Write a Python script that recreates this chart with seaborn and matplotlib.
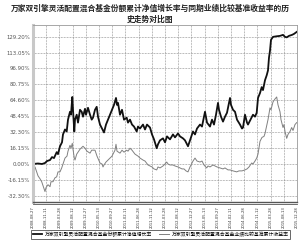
import numpy as np
import pandas as pd
import seaborn as sns
import matplotlib
matplotlib.use("Agg")
import matplotlib.pyplot as plt

title = "万家双引擎灵活配置混合基金份额累计净值增长率与同期业绩比较基准收益率的历\n史走势对比图"
fund_label = "万家双引擎灵活配置混合基金份额累计净值增长率"
bench_label = "万家双引擎灵活配置混合基金业绩比较基准累计收益率"

date_labels = ["2008-08-27", "2008-11-11", "2009-03-28", "2009-08-12", "2009-12-27",
               "2010-05-13", "2010-09-27", "2011-02-11", "2011-06-28", "2011-11-12",
               "2012-03-28", "2012-08-12", "2012-12-27", "2013-05-13", "2013-09-27",
               "2014-02-11", "2014-06-28", "2014-11-12", "2015-03-28", "2015-08-13",
               "2015-12-28"]
y_ticks = [-32.30, -16.15, 0.00, 16.15, 32.30, 48.45, 64.60, 80.75, 96.90, 113.05, 129.20]

# (time index 0..264 over the period, value in %)
fund_points = [(0,0),(5,0.5),(9,0),(12,1),(14,3),(17,4),(19,7),(21,6),(23.7,12),(25,10),(27,18),
    (29,22),(30,30),(32,35),(33.7,33),(35,45),(37,53),(38,50),(39.3,68),(40,55),(41.3,33),(42,45),
    (43.7,50),(45,42),(47,55),(48.7,53),(50,48),(52,56),(53,50),(55,57),(57,50),(58.7,45),(60,47),
    (62,55),(63.7,58),(65,48),(67,40),(69,36),(71,32),(73,40),(75,45),(77,50),(79,55),(81,60),
    (83,67),(84,60),(85,62),(87,50),(89,55),(91,45),(93.7,47),(95,42),(97,45),(99,40),(101,38),
    (103.7,33),(105,38),(107,36),(110,40),(112,35),(114,40),(117,37),(119,30),(121,25),(123.7,16),
    (125,20),(127,24),(130,26),(132,22),(134,28),(137,25),(140,30),(142,27),(145,31),(147,28),
    (150,26),(152,24),(155,18),(157,24),(160,33),(162,30),(164,36),(167,40),(169,38),(171,48),
    (172,53),(174,42),(177,38),(179,45),(181,40),(183,50),(185,62),(186,55),(188,48),(190,43),
    (192,48),(194,52),(197,67),(198,60),(200,55),(202,53),(204,45),(207,40),(209,36),(210,37),
    (212,50),(214,42),(215,40),(217,44),(220,50),(222,48),(223.7,52),(225,67),(227,72),(228.7,78),
    (230,75),(232,85),(233.7,90),(235,95),(236,108),(237,115),(238,126),(240,129),(243,129.5),
    (247,130),(250,131),(252,129),(253.7,128.5),(256,130),(259,131),(261,132),(263.7,134)]

bench_points = [(0,0),(1,-5),(2,-3),(3.7,-8),(5,-12),(7,-15),(8.7,-18),(10,-22),(12,-28),(13,-24),
    (15,-21),(17,-23),(18,-18),(20,-18),(22,-14),(23.7,-13),(25,-8),(27,-8),(28.7,-4),(30,0),(32,6),
    (34,8),(35,13),(37,19),(38,16),(39.3,21),(40,15),(41.3,6),(42,4),(43.7,10),(45,12),(47,15),
    (50,18),(52,16),(54,13),(57,11),(58.7,14),(60,14),(62,14),(64,8),(67,1),(69,0),(70,-3),(71,-1),
    (73,2),(75,4),(77,6),(79,8),(82,14),(83,20),(84,13),(87,11),(89,14),(91,12),(93.7,14),(95,13),
    (97,16),(99,14),(102,10),(105,8),(107,6),(110,4),(112,3),(115,-1),(117,-2),(119,-3),(121,-5),
    (123.7,-6),(125,-3),(127,-4),(130,-2),(132,0),(133.7,2),(135,0),(137,-1),(140,-1),(142,-2),
    (145,-3),(147,-4),(149,-5),(151,-5),(153,-7),(155,-8),(157,-3),(160,3),(162,6),(164,3),(167,2),
    (169,3),(171,-1),(173.7,-4),(175,-2),(177,-3),(180,-1),(182,-2),(184,-3),(187,-4),(190,-5),
    (192,-4),(195,-6),(197,-6),(200,-7),(203.7,-8),(206,-7),(209,-7),(212,-6),(214,-5),(216,-3),
    (218.7,1),(220,0),(222,3),(223.7,6),(225,10),(227,23),(229,27),(231,28),(232,31),(234,40),
    (235,45),(237,57),(238,55),(240,63),(242,66),(243.7,68),(245,60),(247,53),(248,45),(250,37),
    (251,40),(252,33),(253.7,26),(255,30),(257,33),(258.7,37),(260,34),(262,40),(263.7,42)]

df_f = pd.DataFrame(fund_points, columns=["t", "v"])
df_b = pd.DataFrame(bench_points, columns=["t", "v"])

plt.rcParams["font.family"] = ["Noto Sans CJK SC", "DejaVu Sans"]
fig = plt.figure(figsize=(3.0, 2.43), dpi=100)
ax = fig.add_axes([0.11, 0.169, 0.88, 0.728])

sns.lineplot(data=df_b, x="t", y="v", ax=ax, color="#808080", linewidth=0.7,
             sort=False, label=bench_label)
sns.lineplot(data=df_f, x="t", y="v", ax=ax, color="#111111", linewidth=1.3,
             sort=False, label=fund_label)

ax.set_xlim(0, 264)
ax.set_ylim(-38.5, 141)
ax.set_xticks(np.linspace(0, 264, len(date_labels)))
ax.set_xticklabels(date_labels, rotation=90, fontsize=2.7, color="#333333",
                   family=["DejaVu Sans"])
ax.set_yticks(y_ticks)
ax.set_yticklabels([f"{v:.2f}%" for v in y_ticks], fontsize=3.9, color="#555555",
                   family=["DejaVu Sans"])
ax.tick_params(axis="x", length=0, pad=3)
ax.tick_params(axis="y", length=0, pad=2)
ax.set_xlabel("")
ax.set_ylabel("")
ax.grid(True, linestyle=(0, (1, 1.2)), color="#777777", linewidth=0.5)
ax.set_axisbelow(True)
for s in ["top", "right"]:
    ax.spines[s].set_color("#999999")
    ax.spines[s].set_linewidth(0.6)
ax.spines["left"].set_color("#c8c8c8")
ax.spines["left"].set_linewidth(2.2)
ax.spines["bottom"].set_color("#555555")
ax.spines["bottom"].set_linewidth(1.0)
ax.plot([0, 1], [-0.012, -0.012], transform=ax.transAxes, color="#555555",
        linewidth=0.6, clip_on=False)

handles, labels = ax.get_legend_handles_labels()
ax.get_legend().remove()
leg = fig.legend(handles[::-1], labels[::-1], loc="center", ncol=2,
                 bbox_to_anchor=(0.535, 0.036), fontsize=3.5, frameon=True,
                 fancybox=False, edgecolor="#222222", handlelength=2.0,
                 borderpad=0.35, columnspacing=1.5, handletextpad=0.5)
leg.get_frame().set_linewidth(0.6)

fig.text(0.5, 0.985, title, ha="center", va="top", fontsize=5.6, fontweight="bold",
         color="#222222", linespacing=1.3)

fig.savefig("out.png", dpi=100)
